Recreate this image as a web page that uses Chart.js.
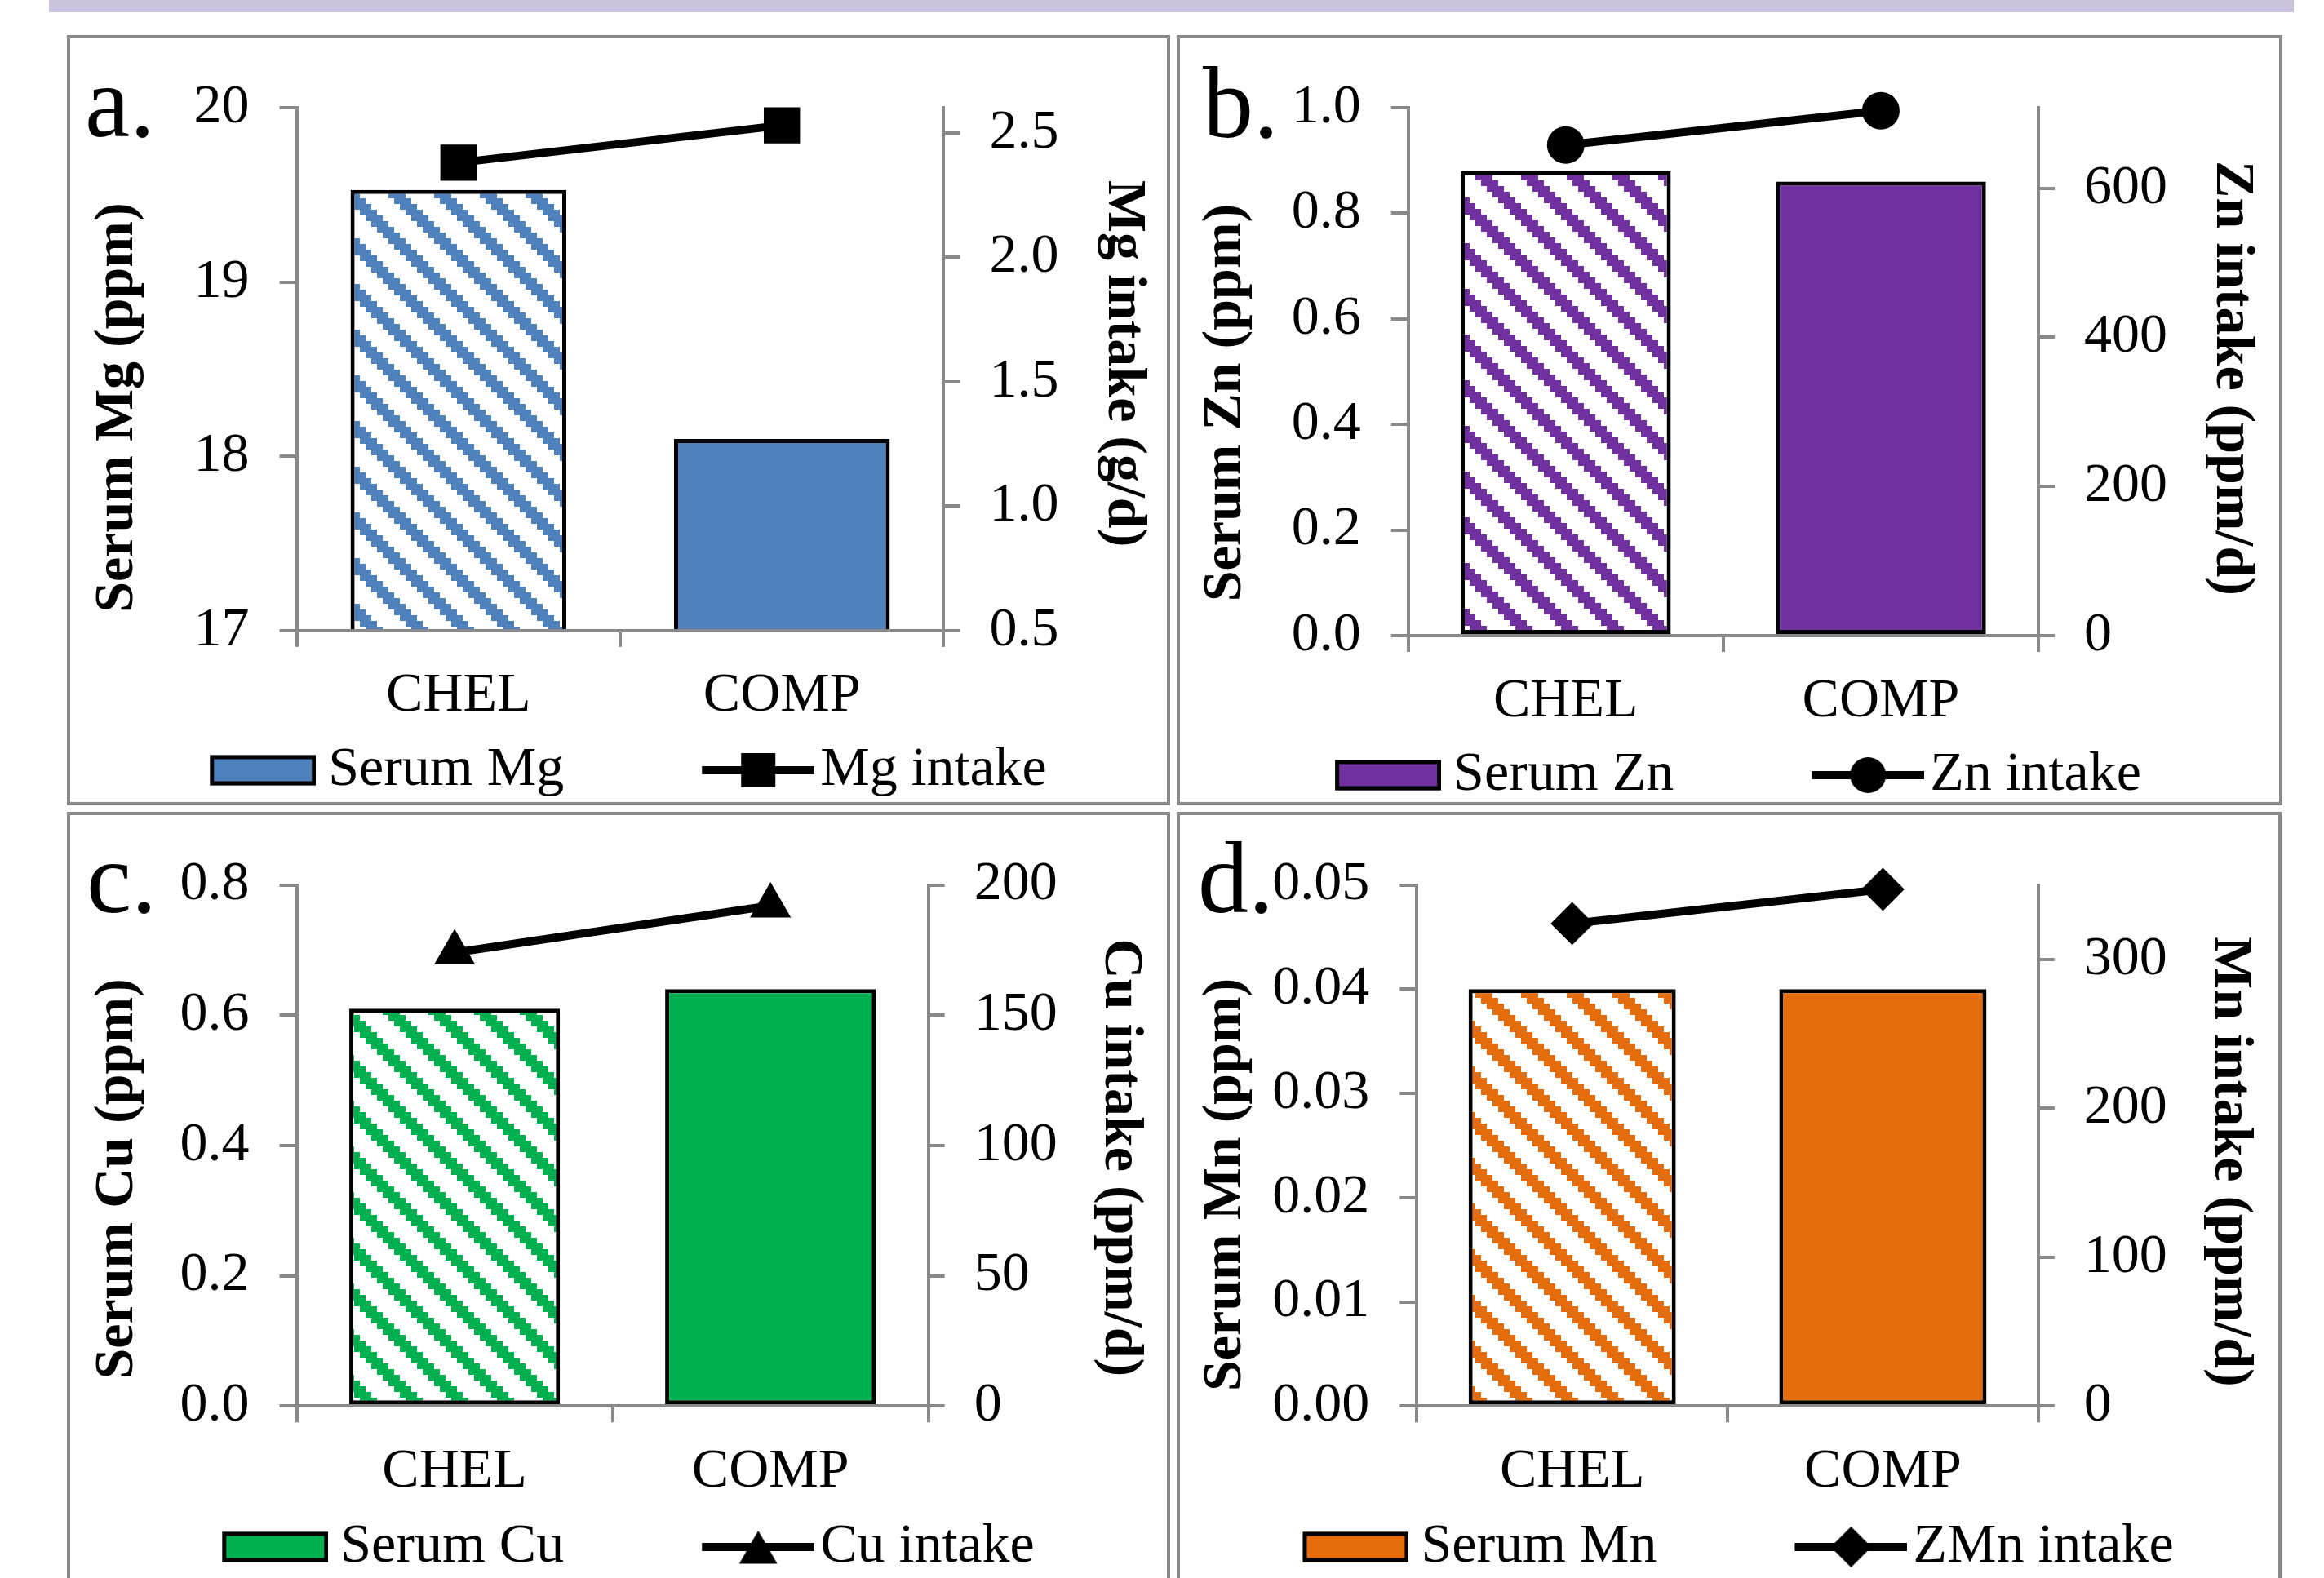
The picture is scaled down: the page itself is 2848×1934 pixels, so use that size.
<!DOCTYPE html>
<html>
<head>
<meta charset="utf-8">
<script src="https://cdn.jsdelivr.net/npm/chart.js@4.4.1/dist/chart.umd.min.js"></script>
<style>
html,body{margin:0;padding:0;background:#fff;}
body{width:2848px;height:1934px;overflow:hidden;position:relative;font-family:'Liberation Serif',serif;}
.band{position:absolute;left:60px;top:0;width:2751px;height:15px;background:#CBC3DD;}
.frame{position:absolute;box-sizing:border-box;border:4px solid #8A8A8A;pointer-events:none;}
canvas{position:absolute;}
.letter{position:absolute;font-family:'Liberation Serif',serif;font-size:124px;line-height:1;color:#000;white-space:nowrap;}
</style>
</head>
<body>
<div class="band"></div>
<canvas id="cA" width="1479" height="941" style="left:-49px;top:47px;width:1479px;height:941px"></canvas>
<canvas id="cB" width="1479" height="941" style="left:1311px;top:53px;width:1479px;height:941px"></canvas>
<canvas id="cC" width="1479" height="941" style="left:-49px;top:999px;width:1479px;height:941px"></canvas>
<canvas id="cD" width="1479" height="941" style="left:1311px;top:999px;width:1479px;height:941px"></canvas>
<div class="frame" style="left:82px;top:43px;width:1352px;height:944px"></div>
<div class="frame" style="left:1442px;top:43px;width:1355px;height:944px"></div>
<div class="frame" style="left:82px;top:995px;width:1352px;height:944px"></div>
<div class="frame" style="left:1442px;top:995px;width:1354px;height:944px"></div>
<div class="letter" style="left:104px;top:64px">a.</div>
<div class="letter" style="left:1474px;top:65px">b.</div>
<div class="letter" style="left:106px;top:1015px">c.</div>
<div class="letter" style="left:1468px;top:1015px">d.</div>
<script>
// ---------------- data ----------------
const categories = ['CHEL', 'COMP'];

const serumMg = [19.53, 18.10];
const mgIntake = [2.38, 2.53];
const serumZn = [0.88, 0.86];
const znIntake = [658, 704];
const serumCu = [0.61, 0.64];
const cuIntake = [174, 192];
const serumMn = [0.040, 0.040];
const mnIntake = [324, 347];

const mgSerumTicks = [17, 18, 19, 20];
const mgIntakeTicks = [0.5, 1.0, 1.5, 2.0, 2.5];
const znSerumTicks = [0, 0.2, 0.4, 0.6, 0.8, 1.0];
const znIntakeTicks = [0, 200, 400, 600];
const cuSerumTicks = [0, 0.2, 0.4, 0.6, 0.8];
const cuIntakeTicks = [0, 50, 100, 150, 200];
const mnSerumTicks = [0, 0.01, 0.02, 0.03, 0.04, 0.05];
const mnIntakeTicks = [0, 100, 200, 300];

const mgIntakeMax = 2.6;
const znIntakeMax = 708;
const cuIntakeMax = 200;
const mnIntakeMax = 350;

// ---------------- styling ----------------
Chart.defaults.font.family = "'Liberation Serif', serif";
const AX = '#898989';
const FS = 68;
const BW = 270;
const LINE_W = 10;

function hatch(color) {
  const c = document.createElement('canvas');
  c.width = 56; c.height = 56;
  const g = c.getContext('2d');
  g.fillStyle = '#fff'; g.fillRect(0, 0, 56, 56);
  g.fillStyle = color;
  for (let r = 0; r < 8; r++) {
    g.fillRect(r * 7, r * 7, 21, 7);
    g.fillRect(r * 7 - 56, r * 7, 21, 7);
  }
  return c;
}

function drawMarker(g, shape, x, y) {
  g.fillStyle = '#000';
  g.beginPath();
  if (shape === 'rect') {
    g.rect(x - 21, y - 21, 42, 42);
  } else if (shape === 'circle') {
    g.arc(x, y, 22, 0, Math.PI * 2);
  } else if (shape === 'triangle') {
    const r = 27, yy = y + 7;
    g.moveTo(x, yy - r);
    g.lineTo(x + r * Math.sin(2 * Math.PI / 3), yy - r * Math.cos(2 * Math.PI / 3));
    g.lineTo(x + r * Math.sin(4 * Math.PI / 3), yy - r * Math.cos(4 * Math.PI / 3));
    g.closePath();
  } else if (shape === 'rectRot') {
    const r = 25;
    g.moveTo(x, y - r); g.lineTo(x + r, y); g.lineTo(x, y + r); g.lineTo(x - r, y);
    g.closePath();
  }
  g.fill();
}

function swatchImg(color) {
  const W = BW + FS - 30, H = 48;
  const c = document.createElement('canvas');
  c.width = W; c.height = H;
  const g = c.getContext('2d');
  const y0 = (H - 37) / 2;
  g.fillStyle = color;
  g.fillRect(W - 130, y0, 130, 37);
  g.lineWidth = 5; g.strokeStyle = '#000';
  g.strokeRect(W - 127.5, y0 + 2.5, 125, 32);
  return c;
}

function lineImg(shape) {
  const W = BW + FS - 14, H = 60;
  const c = document.createElement('canvas');
  c.width = W; c.height = H;
  const g = c.getContext('2d');
  g.strokeStyle = '#000'; g.lineWidth = LINE_W;
  g.beginPath(); g.moveTo(W - 138, H / 2); g.lineTo(W, H / 2); g.stroke();
  drawMarker(g, shape, W - 69, H / 2);
  return c;
}

function makeChart(id, p) {
  const canvas = document.getElementById(id);
  const ctx = canvas.getContext('2d');
  const pattern = ctx.createPattern(hatch(p.color), 'repeat');
  const img1 = swatchImg(p.color);
  const img2 = lineImg(p.marker);
  const shiftPlugin = {
    id: 'titleShift_' + id,
    afterLayout(chart) {
      const shifts = {y: p.lDy, y1: p.rDy};
      Object.keys(shifts).forEach(k => {
        const s = chart.scales[k];
        if (!s || s._shiftPatched) return;
        const orig = s.drawTitle;
        const dy = shifts[k];
        s.drawTitle = function () {
          const c = this.ctx;
          c.save(); c.translate(0, dy); orig.call(this); c.restore();
        };
        s._shiftPatched = true;
      });
    }
  };
  return new Chart(ctx, {
    type: 'bar',
    data: {
      labels: categories,
      datasets: [
        {
          type: 'bar', label: p.barLabel, data: p.serum, yAxisID: 'y',
          backgroundColor: [pattern, p.color], borderColor: '#000', borderWidth: 5,
          borderSkipped: false, categoryPercentage: 1, barPercentage: 0.667
        },
        {
          type: 'line', label: p.lineLabel, data: p.intake, yAxisID: 'y1',
          borderColor: '#000', borderWidth: LINE_W, backgroundColor: '#000',
          pointStyle: p.marker, pointRadius: p.radius, pointBackgroundColor: '#000',
          pointBorderColor: '#000', pointBorderWidth: 2, fill: false, tension: 0, clip: false
        }
      ]
    },
    options: {
      responsive: false, animation: false, devicePixelRatio: 1,
      layout: {padding: {left: 0, right: 0, top: p.top, bottom: 0}},
      plugins: {
        tooltip: {enabled: false},
        legend: {
          display: true, position: 'bottom', align: 'center',
          labels: {
            usePointStyle: true, pointStyleWidth: BW, boxHeight: FS, padding: 10,
            color: '#000', font: {size: FS},
            generateLabels: () => [
              {text: p.barLabel, pointStyle: img1, fillStyle: 'rgba(0,0,0,0)', strokeStyle: 'rgba(0,0,0,0)', lineWidth: 0, hidden: false, datasetIndex: 0, fontColor: '#000'},
              {text: p.lineLabel, pointStyle: img2, fillStyle: 'rgba(0,0,0,0)', strokeStyle: 'rgba(0,0,0,0)', lineWidth: 0, hidden: false, datasetIndex: 1, fontColor: '#000'}
            ]
          }
        }
      },
      scales: {
        x: {
          type: 'category', offset: true,
          grid: {display: true, offset: true, drawOnChartArea: false, drawTicks: true, tickLength: 20, color: AX, lineWidth: 4},
          border: {display: true, color: AX, width: 4, z: 1},
          ticks: {color: '#000', font: {size: FS}, padding: 20, maxRotation: 0, autoSkip: false},
          afterFit: s => { s.height = p.xH; }
        },
        y: {
          type: 'linear', position: 'left', min: p.lTicks[0], max: p.lTicks[p.lTicks.length - 1], bounds: 'data',
          afterBuildTicks: s => { s.ticks = p.lTicks.map(v => ({value: v})); },
          ticks: {color: '#000', font: {size: FS}, padding: 37, callback: v => Number(v).toFixed(p.lDec)},
          grid: {drawOnChartArea: false, drawTicks: true, tickLength: 21, color: AX, lineWidth: 4},
          border: {display: true, color: AX, width: 4, z: 1},
          title: {display: true, text: p.lTitle, color: '#000', font: {size: FS, weight: 'bold', lineHeight: 1.2}, padding: {top: p.lTp, bottom: 0}},
          afterFit: s => { s.width = p.leftW; }
        },
        y1: {
          type: 'linear', position: 'right', min: p.rTicks[0], max: p.rMax, bounds: 'data',
          afterBuildTicks: s => { s.ticks = p.rTicks.map(v => ({value: v})); },
          ticks: {color: '#000', font: {size: FS}, padding: 36, callback: v => Number(v).toFixed(p.rDec)},
          grid: {drawOnChartArea: false, drawTicks: true, tickLength: 20, color: AX, lineWidth: 4},
          border: {display: true, color: AX, width: 4, z: 1},
          title: {display: true, text: p.rTitle, color: '#000', font: {size: FS, weight: 'bold', lineHeight: 1.2}, padding: {top: p.rTp, bottom: 0}},
          afterFit: s => { s.width = p.rightW; }
        }
      }
    },
    plugins: [shiftPlugin]
  });
}

makeChart('cA', {
  color: '#4F81BD', marker: 'rect', radius: 30,
  serum: serumMg, intake: mgIntake,
  barLabel: 'Serum Mg', lineLabel: 'Mg intake',
  lTitle: 'Serum Mg (ppm)', rTitle: 'Mg intake (g/d)',
  lTicks: mgSerumTicks, lDec: 0, rTicks: mgIntakeTicks, rDec: 1, rMax: mgIntakeMax,
  top: 85.3, xH: 127.2, leftW: 412.6, rightW: 273.6, lTp: 153, rTp: 12.2, lDy: 47, rDy: -7
});
makeChart('cB', {
  color: '#7030A0', marker: 'circle', radius: 22,
  serum: serumZn, intake: znIntake,
  barLabel: 'Serum Zn', lineLabel: 'Zn intake',
  lTitle: 'Serum Zn (ppm)', rTitle: 'Zn intake (ppm/d)',
  lTicks: znSerumTicks, lDec: 1, rTicks: znIntakeTicks, rDec: 0, rMax: znIntakeMax,
  top: 79, xH: 127, leftW: 414.7, rightW: 292, lTp: 150.7, rTp: 14.6, lDy: 38, rDy: 8
});
makeChart('cC', {
  color: '#00B050', marker: 'triangle', radius: 27,
  serum: serumCu, intake: cuIntake,
  barLabel: 'Serum Cu', lineLabel: 'Cu intake',
  lTitle: 'Serum Cu (ppm)', rTitle: 'Cu intake (ppm/d)',
  lTicks: cuSerumTicks, lDec: 1, rTicks: cuIntakeTicks, rDec: 0, rMax: cuIntakeMax,
  top: 85.5, xH: 128.7, leftW: 412.6, rightW: 292.3, lTp: 153, rTp: 16.7, lDy: 41, rDy: 15
});
makeChart('cD', {
  color: '#E46C0A', marker: 'rectRot', radius: 25,
  serum: serumMn, intake: mnIntake,
  barLabel: 'Serum Mn', lineLabel: 'ZMn intake',
  lTitle: 'Serum Mn (ppm)', rTitle: 'Mn intake (ppm/d)',
  lTicks: mnSerumTicks, lDec: 2, rTicks: mnIntakeTicks, rDec: 0, rMax: mnIntakeMax,
  top: 85.5, xH: 128.7, leftW: 425.3, rightW: 292.2, lTp: 151.1, rTp: 16.2, lDy: 48, rDy: 20
});
</script>
</body>
</html>
